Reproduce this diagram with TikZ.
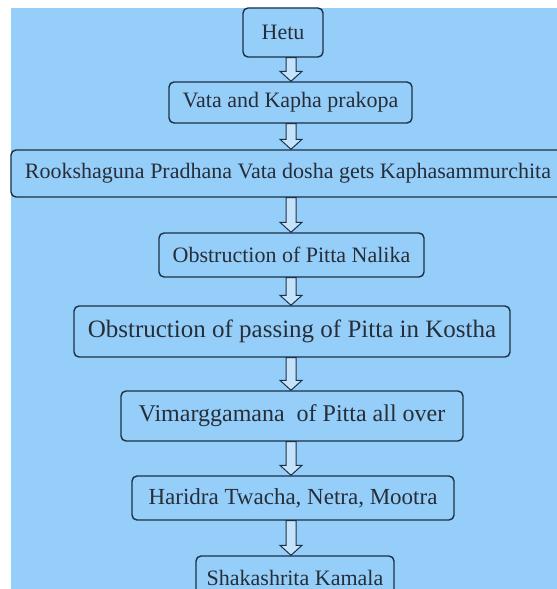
\documentclass[tikz,border=0pt]{standalone}
\usepackage{fontspec}
\setmainfont{Liberation Serif}
\newfontfamily\flowfont{Liberation Serif}
\usetikzlibrary{calc}
\definecolor{panelblue}{RGB}{150,206,250}
\definecolor{boxline}{RGB}{28,48,68}
\definecolor{textgrey}{RGB}{38,46,56}

\tikzset{
  flowbox/.style={draw=boxline, line width=1.4bp, rounded corners=5bp,
    fill=panelblue, text=textgrey, inner sep=0pt,
    font=\flowfont\fontsize{22bp}{24bp}\selectfont},
  hollowarrow/.style={draw=boxline, line width=1bp, fill=panelblue!55!white,
    to path={let \p1=(\tikztostart), \p2=(\tikztotarget) in
      (\x1-5bp,\y1) -- (\x1-5bp,\y2+10bp) -- (\x1-11bp,\y2+10bp) -- (\x1,\y2)
      -- (\x1+11bp,\y2+10bp) -- (\x1+5bp,\y2+10bp) -- (\x1+5bp,\y1) -- cycle}}
}

\begin{document}
\begin{tikzpicture}[x=1bp, y=-1bp]
\useasboundingbox (0,0) rectangle (557,589);
\fill[white] (0,0) rectangle (557,589);
\fill[panelblue] (11,8) rectangle (557,589);
\coordinate (spine) at (291,0);

\node[flowbox, minimum width=80bp, minimum height=49bp] (hetu) at (283,32.5) {Hetu};
\node[flowbox, minimum width=243bp, minimum height=41bp] (vata) at (290.5,102.5) {Vata and Kapha prakopa};
\node[flowbox, minimum width=554bp, minimum height=47bp] (rook) at (288,173.5) {Rookshaguna Pradhana Vata dosha gets Kaphasammurchita};
\node[flowbox, minimum width=265bp, minimum height=44bp] (nalika) at (291.5,255) {Obstruction of Pitta Nalika};
\node[flowbox, minimum width=436bp, minimum height=51bp,
  font=\flowfont\fontsize{25bp}{27bp}\selectfont] (kostha) at (292,331.5) {Obstruction of passing of Pitta in Kostha};
\node[flowbox, minimum width=342bp, minimum height=50bp,
  font=\flowfont\fontsize{24bp}{26bp}\selectfont] (vimarga) at (292,416) {Vimarggamana\ \ of Pitta all over};
\node[flowbox, minimum width=322bp, minimum height=44bp,
  font=\flowfont\fontsize{23bp}{25bp}\selectfont] (haridra) at (293,498) {Haridra Twacha, Netra, Mootra};
\node[flowbox, minimum width=198bp, minimum height=44bp] (kamala) at (295,578) {Shakashrita Kamala};

% block arrows down the middle
\foreach \a/\b in {hetu/vata, vata/rook, rook/nalika, nalika/kostha,
    kostha/vimarga, vimarga/haridra, haridra/kamala}
  \draw[hollowarrow] (\a.south -| spine) to (\b.north -| spine);
\end{tikzpicture}
\end{document}
